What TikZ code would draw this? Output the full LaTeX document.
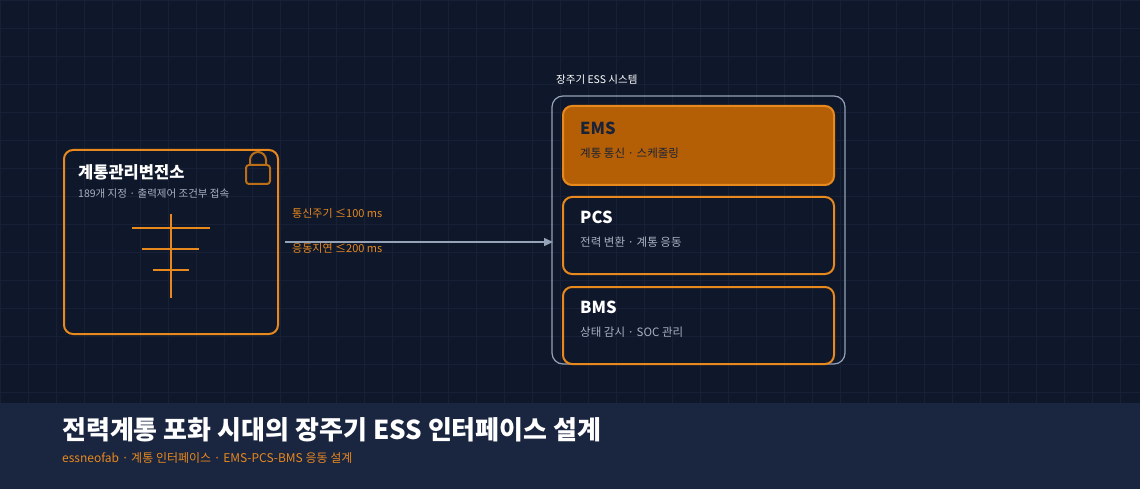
\documentclass[tikz,border=0pt]{standalone}
\usepackage{fontspec}
\setmainfont{Noto Sans CJK KR}
\usetikzlibrary{arrows.meta}
\definecolor{bg}{HTML}{0F172A}
\definecolor{grid}{HTML}{172036}
\definecolor{band}{HTML}{1A2540}
\definecolor{org}{HTML}{E8891E}
\definecolor{orgfill}{HTML}{B45F06}
\definecolor{gry}{HTML}{94A3B8}
\definecolor{sub}{HTML}{A8B2C2}
\definecolor{dark}{HTML}{1A2238}
\tikzset{
 box/.style={draw=org,line width=2pt,rounded corners=9pt},
 ttl/.style={anchor=west,text=white,font=\bfseries\fontsize{16.5}{19}\selectfont,inner sep=0},
 st/.style={anchor=west,text=sub,font=\fontsize{11.5}{13}\selectfont,inner sep=0},
 lbl/.style={anchor=west,text=org,font=\fontsize{11}{13}\selectfont,inner sep=0},
 sym/.style={draw=org,line width=2pt}
}
\begin{document}
\begin{tikzpicture}[x=1pt,y=-1pt]
\fill[bg] (0,0) rectangle (1140,489);
\useasboundingbox (0,0) rectangle (1140,489);
\foreach \i in {0,28,...,1140} \draw[grid,line width=0.6pt] (\i,0)--(\i,403);
\foreach \j in {0,28,...,403} \draw[grid,line width=0.6pt] (0,\j)--(1140,\j);
\fill[band] (0,403) rectangle (1140,489);
% left box
\draw[box] (64,150) rectangle (278,334);
\node[ttl] (lt) at (78,172) {계통관리변전소};
\node[st,font=\fontsize{10.5}{12}\selectfont] (ls) at (78,194) {189개 지정 · 출력제어 조건부 접속};
\draw[draw=org!80!black,line width=2pt,rounded corners=3pt] (246,165) rectangle (270,184);
\draw[draw=org!80!black,line width=2pt] (250,165) -- (250,160) arc[start angle=180,end angle=360,radius=8] -- (266,165);
\draw[sym] (171,214)--(171,298);
\draw[sym] (132,228)--(210,228);
\draw[sym] (142,249)--(199,249);
\draw[sym] (153,270)--(189,270);
% container
\node[anchor=west,text=white,font=\fontsize{10.5}{12}\selectfont,inner sep=0] (cl) at (556,80) {장주기 ESS 시스템};
\draw[gry,line width=1.2pt,rounded corners=11pt] (552,96) rectangle (845,364);
\node[coordinate] (ct) at (553,242) {};
\coordinate (as) at (285,242);
\draw[gry,line width=1.5pt,-{Triangle[length=9pt,width=8pt]}] (as) -- (ct);
\node[lbl] (l1) at (292,213) {통신주기 ≤100 ms};
\node[lbl] (l2) at (292,248) {응동지연 ≤200 ms};
% EMS
\draw[box,fill=orgfill] (563,106) rectangle (834,185);
\node[ttl,text=dark] (et) at (580,128) {EMS};
\node[st,text=dark] (es) at (580,153) {계통 통신 · 스케줄링};
\draw[box] (563,197) rectangle (834,274);
\node[ttl] (pt) at (580,217) {PCS};
\node[st] (ps) at (580,242) {전력 변환 · 계통 응동};
\draw[box] (563,287) rectangle (834,364);
\node[ttl] (bt) at (580,307) {BMS};
\node[st] (bs) at (580,332) {상태 감시 · SOC 관리};
% bottom
\node[anchor=west,text=white,font=\bfseries\fontsize{26}{30}\selectfont,inner sep=0] (tt) at (62,430) {전력계통 포화 시대의 장주기 ESS 인터페이스 설계};
\node[anchor=west,text=org,font=\fontsize{12}{14}\selectfont,inner sep=0] (ts) at (62,458) {essneofab · 계통 인터페이스 · EMS-PCS-BMS 응동 설계};
\end{tikzpicture}
\end{document}
